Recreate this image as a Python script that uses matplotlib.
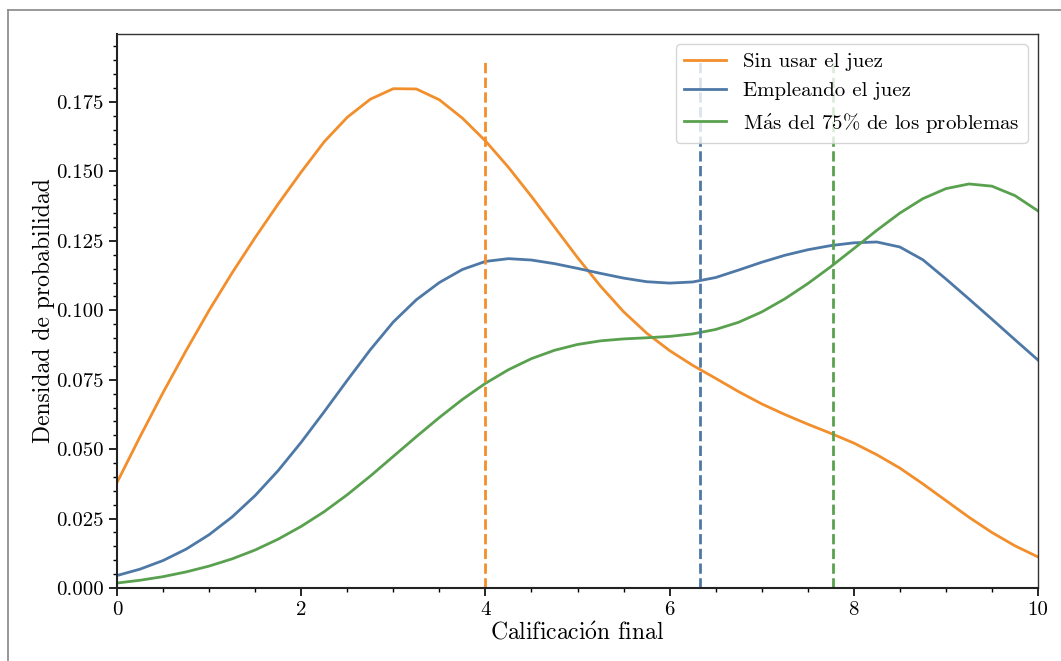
import numpy as np
import matplotlib
matplotlib.use("Agg")
import matplotlib.pyplot as plt
from matplotlib.lines import Line2D
from matplotlib.ticker import MultipleLocator, FormatStrFormatter

plt.rcParams['font.family'] = ['cmr10', 'DejaVu Serif']
plt.rcParams['mathtext.fontset'] = 'cm'
plt.rcParams['axes.formatter.use_mathtext'] = True

# Densidades estimadas (cada 0.25 puntos)
notas = np.arange(0, 10.01, 0.25)

sin_juez = [0.038, 0.0545, 0.0704, 0.0855, 0.100, 0.1135, 0.1262, 0.1383, 0.1498,
            0.1607, 0.1695, 0.1760, 0.1798, 0.1797, 0.1758, 0.1692, 0.161,
            0.1515, 0.141, 0.130, 0.119, 0.1087, 0.0995, 0.0918, 0.0855,
            0.0802, 0.0755, 0.0707, 0.0663, 0.0625, 0.059, 0.0557, 0.0522,
            0.048, 0.0432, 0.0375, 0.0315, 0.0255, 0.020, 0.0152, 0.0112]

con_juez = [0.0045, 0.0068, 0.0099, 0.014, 0.0192, 0.0256, 0.0333, 0.0423, 0.0525,
            0.0635, 0.0748, 0.0858, 0.0958, 0.1038, 0.1100, 0.1147, 0.1176,
            0.1186, 0.1181, 0.1168, 0.1151, 0.1133, 0.1116, 0.1103, 0.1098,
            0.1102, 0.1118, 0.1145, 0.1173, 0.1198, 0.1218, 0.1233, 0.1243,
            0.1246, 0.1228, 0.1182, 0.1113, 0.1041, 0.0968, 0.0894, 0.0821]

mas_75 = [0.0018, 0.0028, 0.0041, 0.0058, 0.0079, 0.0105, 0.0137, 0.0176, 0.0222,
          0.0275, 0.0336, 0.0403, 0.0474, 0.0545, 0.0614, 0.0679, 0.0737,
          0.0786, 0.0826, 0.0856, 0.0877, 0.0890, 0.0897, 0.0901, 0.0906,
          0.0915, 0.0931, 0.0957, 0.0994, 0.1041, 0.1096, 0.1157, 0.1222,
          0.1288, 0.1350, 0.1402, 0.1438, 0.1455, 0.1447, 0.1413, 0.1358]

# Medias de cada grupo
medias = [4.0, 6.33, 7.77]

etiquetas = ['Sin usar el juez', 'Empleando el juez',
             r'M$\mathrm{\acute{a}}$s del 75% de los problemas']
colores = ['#F28E2B', '#4E79A7', '#59A14F']

fig = plt.figure(figsize=(10.61, 6.61), dpi=100)
ax = fig.add_axes([0.1103, 0.1104, 0.8680, 0.8382])

for serie, color, etiqueta in zip([sin_juez, con_juez, mas_75], colores, etiquetas):
    ax.plot(notas, serie, color=color, lw=2, label=etiqueta)

for m, color in zip(medias, colores):
    ax.vlines(m, 0, 0.19, colors=color, linestyles='dashed', lw=2)

ax.set_xlim(0, 10)
ax.set_ylim(0, 0.1995)
ax.xaxis.set_major_locator(MultipleLocator(2))
ax.xaxis.set_minor_locator(MultipleLocator(0.5))
ax.yaxis.set_major_locator(MultipleLocator(0.025))
ax.yaxis.set_minor_locator(MultipleLocator(0.005))
ax.yaxis.set_major_formatter(FormatStrFormatter('%.3f'))
ax.xaxis.set_major_formatter(FormatStrFormatter('%d'))
ax.tick_params(which='major', length=6, width=1.2, labelsize=15, direction='out')
ax.tick_params(which='minor', length=3, width=1.0, direction='out')

for lado in ['left', 'bottom']:
    ax.spines[lado].set_linewidth(1.5)
    ax.spines[lado].set_color('#222222')
for lado in ['top', 'right']:
    ax.spines[lado].set_linewidth(1.0)
    ax.spines[lado].set_color('#333333')

ax.set_xlabel(r'Calificaci$\mathrm{\acute{o}}$n final', fontsize=17, labelpad=2)
ax.set_ylabel('Densidad de probabilidad', fontsize=17, labelpad=1)
ax.legend(loc='upper right', fontsize=15, handlelength=2.0)

# marco exterior de la captura
fig.add_artist(Line2D([8 / 1061, 1], [1 - 10 / 661] * 2, color='#888888', lw=1.2,
                      transform=fig.transFigure))
fig.add_artist(Line2D([8 / 1061] * 2, [0, 1 - 10 / 661], color='#888888', lw=1.2,
                      transform=fig.transFigure))

fig.savefig('out.png', dpi=100)
